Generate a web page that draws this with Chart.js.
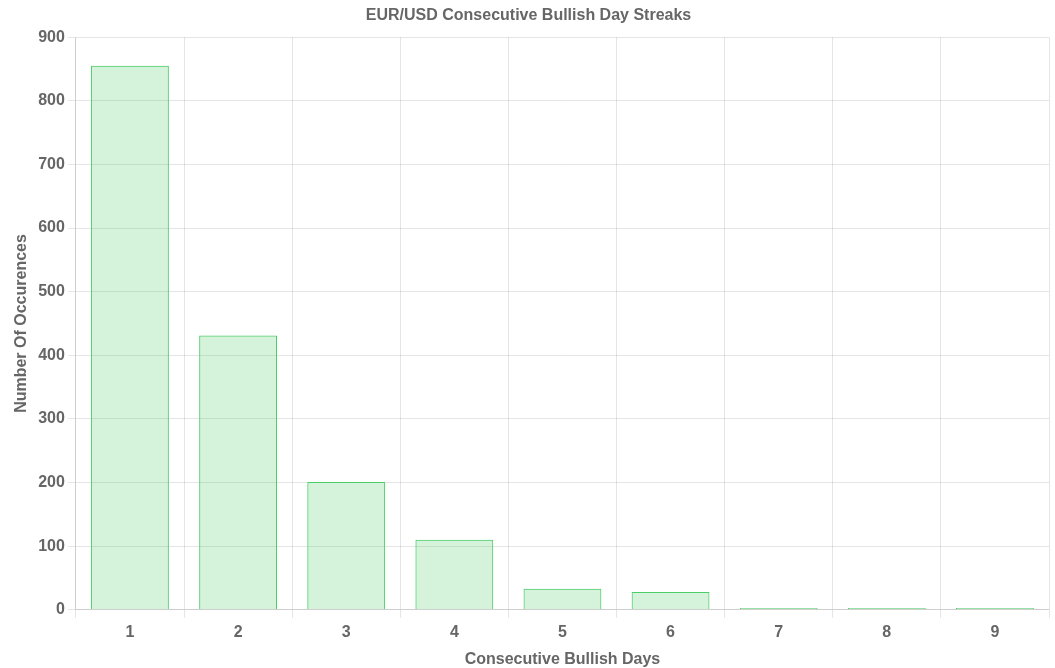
<!DOCTYPE html>
<html>
<head>
<meta charset="utf-8">
<script src="https://cdn.jsdelivr.net/npm/chart.js@4/dist/chart.umd.min.js"></script>
<style>
  html, body { margin: 0; padding: 0; background: #fff; }
  #wrap { width: 1055px; height: 668px; }
</style>
</head>
<body>
<div id="wrap"><canvas id="myChart"></canvas></div>
<script>
const streakDays = ["1", "2", "3", "4", "5", "6", "7", "8", "9"];
const occurrences = [855, 431, 201, 110, 33, 28, 3, 3, 3];

Chart.defaults.font.family = "'Liberation Sans', Arial, sans-serif";
Chart.defaults.color = "#666";

const ctx = document.getElementById('myChart');
window.myChart = new Chart(ctx, {
  type: 'bar',
  data: {
    labels: streakDays,
    datasets: [{
      label: 'Occurences',
      data: occurrences,
      backgroundColor: 'rgba(45, 195, 70, 0.2)',
      borderColor: 'rgba(75, 205, 105, 1)',
      borderWidth: 1
    }]
  },
  options: {
    responsive: true,
    maintainAspectRatio: false,
    animation: false,
    layout: { padding: { left: 8, right: 6, top: 0, bottom: 0 } },
    plugins: {
      legend: { display: false },
      title: {
        display: true,
        text: 'EUR/USD Consecutive Bullish Day Streaks',
        color: '#666',
        padding: { top: 6, bottom: 12 },
        font: { size: 16, weight: 'bold' }
      }
    },
    scales: {
      x: {
        grid: { color: 'rgba(0,0,0,0.1)' },
        ticks: { padding: 5, font: { size: 16, weight: 'bold' } },
        title: {
          display: true,
          text: 'Consecutive Bullish Days',
          color: '#666',
          padding: { top: 5, bottom: 0 },
          font: { size: 16, weight: 'bold', lineHeight: 1 }
        }
      },
      y: {
        min: 0,
        max: 900,
        grid: { color: 'rgba(0,0,0,0.1)' },
        ticks: { stepSize: 100, font: { size: 16, weight: 'bold' } },
        title: {
          display: true,
          text: 'Number Of Occurences',
          color: '#666',
          font: { size: 16, weight: 'bold' }
        }
      }
    }
  }
});
</script>
</body>
</html>
